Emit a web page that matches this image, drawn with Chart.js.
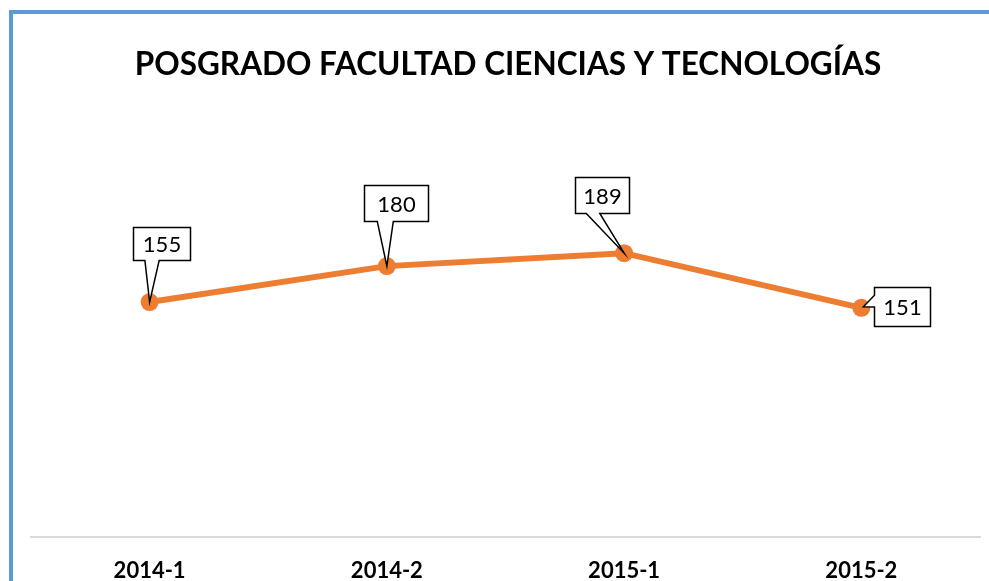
<!DOCTYPE html>
<html>
<head>
<meta charset="utf-8">
<script src="https://cdn.jsdelivr.net/npm/chart.js@4.4.1/dist/chart.umd.min.js"></script>
<style>
  html, body { margin: 0; padding: 0; background: #fff; overflow: hidden; }
  #frame { position: absolute; left: 9px; top: 10px; width: 1100px; height: 700px; border: 4px solid #5b9bd5; box-sizing: border-box; }
  /* a bit taller than the window so the axis labels sit near the bottom edge */
  #wrap { position: absolute; left: 0; top: 0; width: 989px; height: 605px; }
</style>
</head>
<body>
<div id="frame"></div>
<div id="wrap"><canvas id="lineChart"></canvas></div>
<script>
// data
const periods = ["2014-1", "2014-2", "2015-1", "2015-2"];
const students = [155, 180, 189, 151];
const chartTitle = "POSGRADO FACULTAD CIENCIAS Y TECNOLOGÍAS";

// callout boxes: offset from the point, size, and which side the pointer comes out of
const callouts = [
  { dx: -17, dy: -75, w: 57, h: 33, side: "bottom" },
  { dx: -23, dy: -81, w: 64, h: 36, side: "bottom" },
  { dx: -49, dy: -76, w: 54, h: 36, side: "bottom" },
  { dx: 13, dy: -21, w: 56, h: 39, side: "left" }
];

const calloutPlugin = {
  id: "callouts",
  afterDatasetsDraw(chart) {
    const ctx = chart.ctx;
    const meta = chart.getDatasetMeta(0);
    meta.data.forEach((pt, i) => {
      const c = callouts[i];
      const x = Math.round(pt.x + c.dx) + 0.5;
      const y = Math.round(pt.y + c.dy) + 0.5;
      const r = x + c.w, b = y + c.h;
      ctx.save();
      ctx.beginPath();
      ctx.moveTo(x, y);
      ctx.lineTo(r, y);
      ctx.lineTo(r, b);
      if (c.side === "bottom") {
        const b2 = x + c.w * 0.45, b1 = x + c.w * 0.2;
        ctx.lineTo(b2, b);
        ctx.lineTo(pt.x, pt.y);
        ctx.lineTo(b1, b);
        ctx.lineTo(x, b);
        ctx.closePath();
      } else {
        ctx.lineTo(x, b);
        ctx.lineTo(x, y + c.h * 0.5);
        ctx.lineTo(pt.x + 2, pt.y - 1);
        ctx.lineTo(x, y + c.h * 0.2);
        ctx.closePath();
      }
      ctx.fillStyle = "#fff";
      ctx.fill();
      ctx.strokeStyle = "#000";
      ctx.lineWidth = 1.5;
      ctx.lineJoin = "miter";
      ctx.stroke();
      ctx.fillStyle = "#000";
      ctx.font = "22px Lato";
      ctx.textAlign = "center";
      ctx.textBaseline = "middle";
      ctx.fillText(String(students[i]), x + c.w / 2, y + c.h / 2 + 1);
      ctx.restore();
    });
  }
};

const ctx = document.getElementById("lineChart").getContext("2d");
new Chart(ctx, {
  type: "line",
  data: {
    labels: periods,
    datasets: [{
      data: students,
      borderColor: "#ed7d31",
      backgroundColor: "#ed7d31",
      borderWidth: 6,
      pointRadius: 9,
      pointHoverRadius: 9,
      pointBorderWidth: 0,
      tension: 0
    }]
  },
  options: {
    responsive: true,
    maintainAspectRatio: false,
    animation: false,
    layout: { padding: { left: 31, right: 4, top: 0, bottom: 0 } },
    plugins: {
      legend: { display: false },
      tooltip: { enabled: false },
      title: {
        display: true,
        text: chartTitle,
        color: "#000",
        font: { family: "Lato", size: 31.5, weight: "bold" },
        padding: { top: 46, bottom: 37 }
      }
    },
    scales: {
      x: {
        offset: true,
        grid: { display: false, drawTicks: false },
        border: { display: true, color: "#d9d9d9", width: 2 },
        ticks: {
          color: "#000",
          padding: 21,
          font: { family: "Lato", size: 22, weight: "bold" }
        }
      },
      y: {
        display: false,
        min: -8,
        max: 281
      }
    }
  },
  plugins: [calloutPlugin]
});
</script>
</body>
</html>
